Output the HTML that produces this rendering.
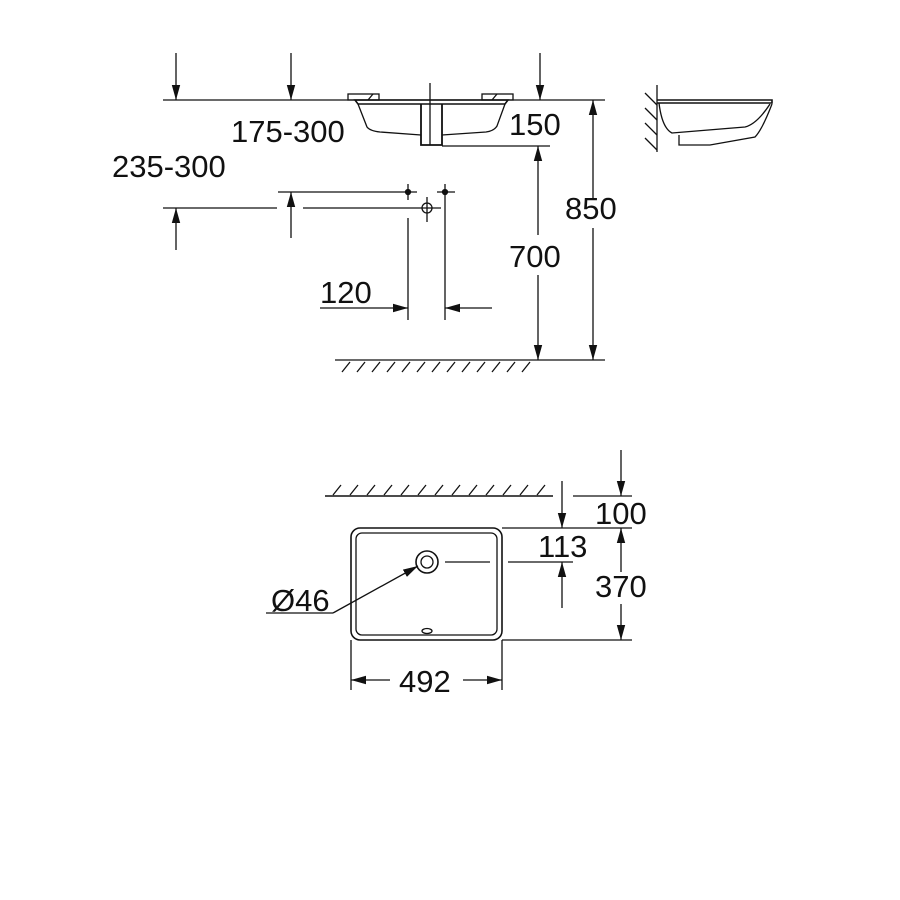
<!DOCTYPE html>
<html><head><style>
html,body{margin:0;padding:0;background:#fff;}
svg{display:block;}
text{font-family:"Liberation Sans",Arial,sans-serif;font-size:31px;fill:#111;}
</style></head><body>
<svg width="900" height="900" viewBox="0 0 900 900" xmlns="http://www.w3.org/2000/svg">
<defs>
<marker id="a" viewBox="0 0 10 10" refX="10" refY="5" markerWidth="15" markerHeight="15" markerUnits="userSpaceOnUse" orient="auto"><path d="M0,2.2 L10,5 L0,7.8 Z" fill="#111"/></marker>
</defs>
<g stroke="#111" stroke-width="1.3" fill="none">
<line x1="163" y1="100" x2="605" y2="100"/>
<line x1="176" y1="53" x2="176" y2="100" marker-end="url(#a)"/>
<line x1="291" y1="53" x2="291" y2="100" marker-end="url(#a)"/>
<line x1="540" y1="53" x2="540" y2="100" marker-end="url(#a)"/>
<rect x="348" y="94" width="31" height="6"/>
<rect x="482" y="94" width="31" height="6"/>
<line x1="368" y1="100" x2="373" y2="94"/><line x1="492" y1="100" x2="497" y2="94"/>
<path d="M355,100 L508,100 L505,104 L358,104 Z" stroke-width="1.6"/>
<path d="M358,104 L367,127 Q370,131 380,132 L421,135"/>
<path d="M442,135 L486,132 Q494,131 497,126 L505,104"/>
<path d="M421,104 L421,145 L442,145 L442,104" stroke-width="1.8"/>
<line x1="430" y1="83" x2="430" y2="145"/>
<line x1="442" y1="146" x2="550" y2="146"/>
<line x1="278" y1="192" x2="417" y2="192"/>
<line x1="437" y1="192" x2="455" y2="192"/>
<circle cx="408" cy="192" r="2.5" fill="#111"/>
<circle cx="445" cy="192" r="2.5" fill="#111"/>
<line x1="163" y1="208" x2="277" y2="208"/>
<line x1="303" y1="208" x2="441" y2="208"/>
<circle cx="427" cy="208" r="5"/>
<line x1="427" y1="197" x2="427" y2="222"/>
<line x1="408" y1="184" x2="408" y2="200"/>
<line x1="445" y1="184" x2="445" y2="200"/>
<line x1="176" y1="250" x2="176" y2="208" marker-end="url(#a)"/>
<line x1="291" y1="238" x2="291" y2="192" marker-end="url(#a)"/>
<line x1="408" y1="218" x2="408" y2="320"/>
<line x1="445" y1="200" x2="445" y2="320"/>
<line x1="320" y1="308" x2="408" y2="308" marker-end="url(#a)"/>
<line x1="492" y1="308" x2="445" y2="308" marker-end="url(#a)"/>
<line x1="538" y1="235" x2="538" y2="146" marker-end="url(#a)"/>
<line x1="538" y1="275" x2="538" y2="360" marker-end="url(#a)"/>
<line x1="593" y1="200" x2="593" y2="100" marker-end="url(#a)"/>
<line x1="593" y1="228" x2="593" y2="360" marker-end="url(#a)"/>
<line x1="335" y1="360" x2="605" y2="360"/>
<path d="M342,372 L350,362 M357,372 L365,362 M372,372 L380,362 M387,372 L395,362 M402,372 L410,362 M417,372 L425,362 M432,372 L440,362 M447,372 L455,362 M462,372 L470,362 M477,372 L485,362 M492,372 L500,362 M507,372 L515,362 M522,372 L530,362"/>
<line x1="657" y1="85" x2="657" y2="152"/>
<path d="M645,93 L657,105 M645,108 L657,120 M645,123 L657,135 M645,138 L657,150"/>
<path d="M657,100 L772,100 L772,103 L657,103" stroke-width="1.6"/>
<path d="M659,103 Q662,128 672,133 L745,127 Q757,124 770,104"/>
<path d="M679,135 L679,145 L710,145 L755,137 Q762,130 772,104"/>
<line x1="325" y1="496" x2="553" y2="496" stroke-width="1.6"/>
<path d="M333,495 L341,485 M350,495 L358,485 M367,495 L375,485 M384,495 L392,485 M401,495 L409,485 M418,495 L426,485 M435,495 L443,485 M452,495 L460,485 M469,495 L477,485 M486,495 L494,485 M503,495 L511,485 M520,495 L528,485 M537,495 L545,485"/>
<rect x="351" y="528" width="151" height="112" rx="9" stroke-width="1.6"/>
<rect x="356" y="533" width="141" height="102" rx="6"/>
<circle cx="427" cy="562" r="11" stroke-width="1.6"/>
<circle cx="427" cy="562" r="6"/>
<ellipse cx="427" cy="631" rx="5" ry="2.5"/>
<line x1="445" y1="562" x2="490" y2="562"/>
<line x1="508" y1="562" x2="573" y2="562"/>
<line x1="502" y1="528" x2="632" y2="528"/>
<line x1="502" y1="640" x2="632" y2="640"/>
<line x1="573" y1="496" x2="632" y2="496"/>
<line x1="562" y1="481" x2="562" y2="528" marker-end="url(#a)"/>
<line x1="562" y1="608" x2="562" y2="562" marker-end="url(#a)"/>
<line x1="621" y1="450" x2="621" y2="496" marker-end="url(#a)"/>
<line x1="621" y1="572" x2="621" y2="528" marker-end="url(#a)"/>
<line x1="621" y1="604" x2="621" y2="640" marker-end="url(#a)"/>
<line x1="266" y1="613" x2="333" y2="613"/>
<line x1="333" y1="613" x2="418" y2="566" marker-end="url(#a)"/>
<line x1="351" y1="640" x2="351" y2="690"/>
<line x1="502" y1="640" x2="502" y2="690"/>
<line x1="390" y1="680" x2="351" y2="680" marker-end="url(#a)"/>
<line x1="463" y1="680" x2="502" y2="680" marker-end="url(#a)"/>
</g>
<text x="231" y="142">175-300</text>
<text x="509" y="135">150</text>
<text x="112" y="177">235-300</text>
<text x="565" y="219">850</text>
<text x="509" y="267">700</text>
<text x="320" y="303">120</text>
<text x="595" y="524">100</text>
<text x="538" y="557">113</text>
<text x="595" y="597">370</text>
<text x="271" y="611">Ø46</text>
<text x="399" y="692">492</text>
</svg>
</body></html>
